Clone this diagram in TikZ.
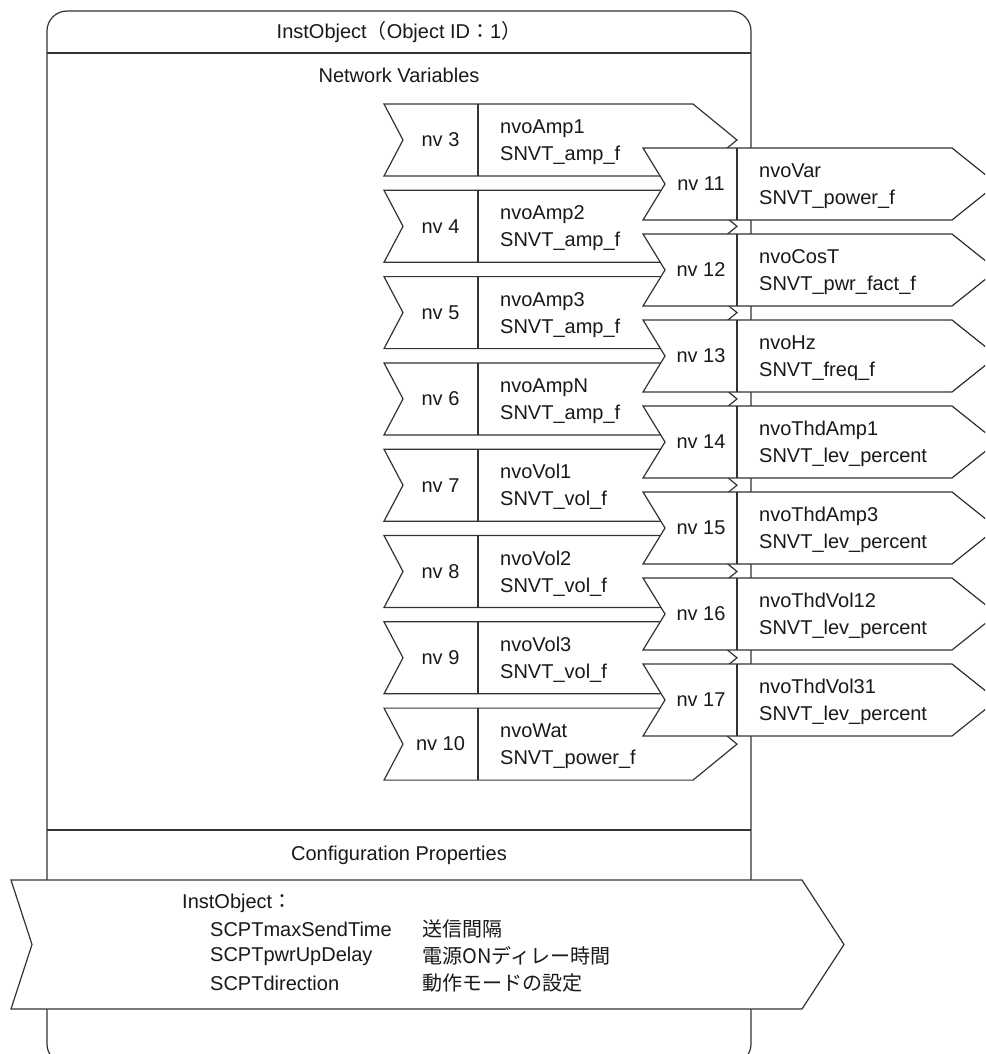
\documentclass[tikz,border=0pt]{standalone}
\usepackage{fontspec}
\setmainfont{Liberation Sans}
\newfontfamily\jpfont{Noto Sans CJK JP}
\begin{document}
\begin{tikzpicture}[x=1pt,y=-1pt,
  frame/.style={draw=black!80, line width=1.2pt},
  varbox/.style={frame, fill=white, line join=miter},
  txt/.style={font=\fontsize{20}{27}\selectfont, inner sep=0pt, text=black!90},
  label/.style={txt, anchor=west, align=left}]
\useasboundingbox (0,0) rectangle (985,1054);
\clip (0,0) rectangle (985,1054);
\fill[white] (0,0) rectangle (985,1054);

% object frame with its three compartments
\draw[frame, rounded corners=20pt] (47,11) rectangle (751,1064);
\draw[frame] (47,53) -- (751,53);
\draw[frame] (47,830) -- (751,830);
\node[txt] (title) at (399,32) {InstObject{\jpfont （}Object ID{\jpfont ：}1{\jpfont ）}};
\node[txt] (nvhead) at (399,75) {Network Variables};
\node[txt] (cphead) at (399,855) {Configuration Properties};

% output network variables, first column
\foreach \n/\nm/\ty [count=\k from 0] in {
  3/nvoAmp1/SNVT\_amp\_f, 4/nvoAmp2/SNVT\_amp\_f, 5/nvoAmp3/SNVT\_amp\_f,
  6/nvoAmpN/SNVT\_amp\_f, 7/nvoVol1/SNVT\_vol\_f, 8/nvoVol2/SNVT\_vol\_f,
  9/nvoVol3/SNVT\_vol\_f, 10/nvoWat/SNVT\_power\_f} {
  \pgfmathsetmacro\yy{104+86.3*\k}
  \draw[varbox] (384,\yy) -- (693,\yy) -- (737,\yy+36) -- (693,\yy+72)
    -- (384,\yy+72) -- (403,\yy+36) -- cycle;
  \draw[frame] (478,\yy) -- (478,\yy+72);
  \node[txt] (nv\n) at (440.5,\yy+36) {nv \n};
  \node[label] (name\n) at (500,\yy+38) {\nm\\\ty};
}

% output network variables, second column
\foreach \n/\nm/\ty [count=\k from 0] in {
  11/nvoVar/SNVT\_power\_f, 12/nvoCosT/SNVT\_pwr\_fact\_f, 13/nvoHz/SNVT\_freq\_f,
  14/nvoThdAmp1/SNVT\_lev\_percent, 15/nvoThdAmp3/SNVT\_lev\_percent,
  16/nvoThdVol12/SNVT\_lev\_percent, 17/nvoThdVol31/SNVT\_lev\_percent} {
  \pgfmathsetmacro\yy{148+86*\k}
  \draw[varbox] (643,\yy) -- (952,\yy) -- (997,\yy+36) -- (952,\yy+72)
    -- (643,\yy+72) -- (665,\yy+36) -- cycle;
  \draw[frame] (737,\yy) -- (737,\yy+72);
  \node[txt] (nv\n) at (701,\yy+36) {nv \n};
  \node[label] (name\n) at (759,\yy+38) {\nm\\\ty};
}

% configuration properties
\draw[varbox] (11,880) -- (802,880) -- (844,944.5) -- (802,1009)
  -- (11,1009) -- (32,944.5) -- cycle;
\node[label] (cfghead) at (182,903) {InstObject{\jpfont ：}};
\node[label] (cfgkey1) at (210,929) {SCPTmaxSendTime};
\node[label] (cfgkey2) at (210,956) {SCPTpwrUpDelay};
\node[label] (cfgkey3) at (210,983) {SCPTdirection};
\node[label] (cfgval1) at (422,929) {\jpfont 送信間隔};
\node[label] (cfgval2) at (422,956) {\jpfont 電源ONディレー時間};
\node[label] (cfgval3) at (422,983) {\jpfont 動作モードの設定};
\end{tikzpicture}
\end{document}
